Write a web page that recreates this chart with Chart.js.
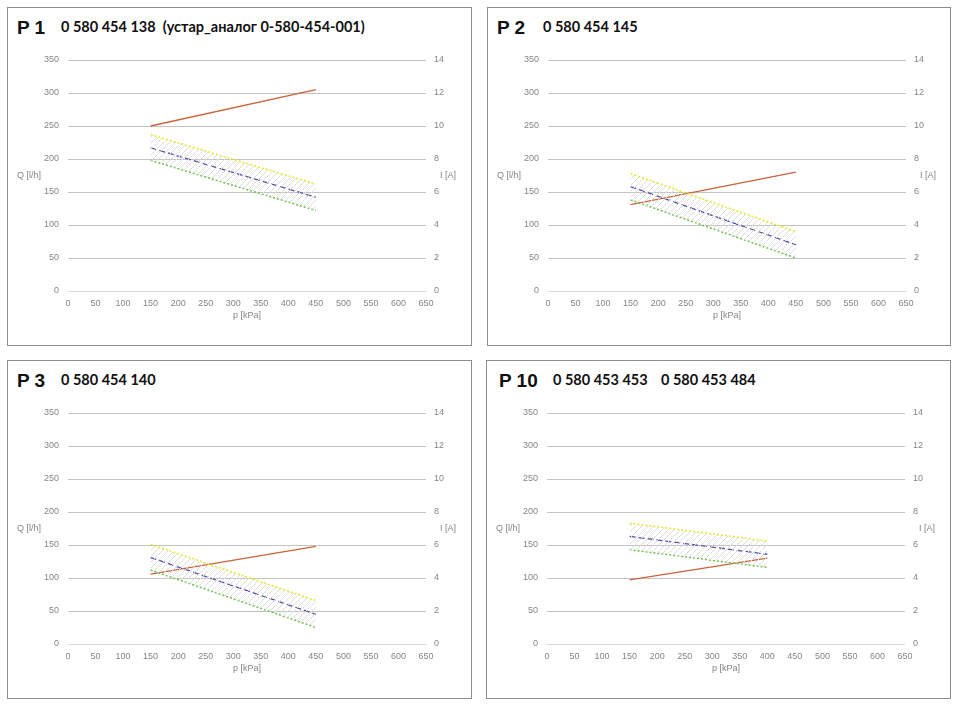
<!DOCTYPE html>
<html>
<head>
<meta charset="utf-8">
<script src="https://cdn.jsdelivr.net/npm/chart.js@4/dist/chart.umd.min.js"></script>
<style>
  body { margin: 0; background: #fff; width: 960px; height: 708px; position: relative; overflow: hidden; }
  .panel { position: absolute; border: 1px solid #8c8c8c; box-sizing: border-box; }
  .title { position: absolute; white-space: pre; color: #111; }
  .big { font: bold 19px "Liberation Sans", Arial, sans-serif; }
  .num { font: bold 14.5px Lato, "Open Sans", sans-serif; }
  canvas { position: absolute; }
</style>
</head>
<body>

<div class="panel" style="left:7px;top:7px;width:465px;height:339px"></div>
<div class="panel" style="left:487px;top:7px;width:464px;height:339px"></div>
<div class="panel" style="left:7px;top:360px;width:465px;height:339px"></div>
<div class="panel" style="left:486px;top:360px;width:465px;height:339px"></div>

<div class="title big" style="left:17px;top:17px">P 1</div>
<div class="title num" style="left:61px;top:18px">0 580 454 138  (устар_аналог 0-580-454-001)</div>
<div class="title big" style="left:497px;top:17px">P 2</div>
<div class="title num" style="left:543px;top:18px">0 580 454 145</div>
<div class="title big" style="left:17px;top:370px">P 3</div>
<div class="title num" style="left:61px;top:371px">0 580 454 140</div>
<div class="title big" style="left:499px;top:370px">P 10</div>
<div class="title num" style="left:553px;top:371px">0 580 453 453</div>
<div class="title num" style="left:661px;top:371px">0 580 453 484</div>

<canvas id="c1" width="462" height="300" style="left:8px;top:40px"></canvas>
<canvas id="c2" width="462" height="300" style="left:488px;top:40px"></canvas>
<canvas id="c3" width="462" height="300" style="left:8px;top:393px"></canvas>
<canvas id="c4" width="462" height="300" style="left:487px;top:393px"></canvas>

<script>
// pressure [kPa] and flow [l/h] / current [A]
const p1Pressure = [150, 450];
const p1Flow     = [217, 142];
const p1FlowMax  = [237, 162];
const p1FlowMin  = [198, 122];
const p1Current  = [10.0, 12.2];

const p2Pressure = [150, 450];
const p2Flow     = [158, 70];
const p2FlowMax  = [178, 90];
const p2FlowMin  = [138, 50];
const p2Current  = [5.24, 7.2];

const p3Pressure = [150, 450];
const p3Flow     = [131, 45];
const p3FlowMax  = [151, 66];
const p3FlowMin  = [112, 25];
const p3Current  = [4.24, 5.92];

const p4Pressure = [150, 400];
const p4Flow     = [163, 136];
const p4FlowMax  = [183, 156];
const p4FlowMin  = [143, 116];
const p4Current  = [3.88, 5.2];

const xTicks = [0, 650, 50];    // min, max, step
const qTicks = [0, 350, 50];
const iTicks = [0, 14, 2];

const tickFont = { family: '"Liberation Sans", Arial, sans-serif', size: 9 };
const tickColor = '#858585';

// hatch pattern for the tolerance band
function hatch() {
    const s = 6;
    const c = document.createElement('canvas');
    c.width = s; c.height = s;
    const g = c.getContext('2d');
    g.strokeStyle = '#dcdcdc';
    g.lineWidth = 1;
    g.beginPath();
    g.moveTo(0, s); g.lineTo(s, 0);
    g.moveTo(-1, 1); g.lineTo(1, -1);
    g.moveTo(s - 1, s + 1); g.lineTo(s + 1, s - 1);
    g.stroke();
    return g.createPattern(c, 'repeat');
}

function pts(xs, ys) {
    return xs.map((x, i) => ({ x: x, y: ys[i] }));
}

const sideTitles = {
    id: 'sideTitles',
    afterDraw(chart) {
        const ctx = chart.ctx, a = chart.chartArea;
        ctx.save();
        ctx.font = '9px "Liberation Sans", Arial, sans-serif';
        ctx.fillStyle = tickColor;
        ctx.textBaseline = 'middle';
        const mid = (a.top + a.bottom) / 2;
        ctx.fillText('Q [l/h]', a.left - 51, mid);
        ctx.fillText('I [A]', a.right + 14, mid);
        ctx.restore();
    }
};

function makeChart(id, press, flow, fmax, fmin, cur) {
    new Chart(document.getElementById(id), {
        type: 'line',
        data: {
            datasets: [
                { data: pts(press, fmax), borderColor: '#e6e62e', borderWidth: 1.5, borderDash: [2, 2],
                  fill: '+1', backgroundColor: hatch(), yAxisID: 'y' },
                { data: pts(press, fmin), borderColor: '#6cc048', borderWidth: 1.5, borderDash: [2, 2],
                  fill: false, yAxisID: 'y' },
                { data: pts(press, flow), borderColor: '#5252a4', borderWidth: 1.3, borderDash: [6, 3],
                  fill: false, yAxisID: 'y' },
                { data: pts(press, cur), borderColor: '#c9643a', borderWidth: 1.3,
                  fill: false, yAxisID: 'y1' }
            ]
        },
        options: {
            responsive: false,
            animation: false,
            events: [],
            layout: { padding: { top: 20, bottom: 19, left: 0, right: 0 } },
            elements: { point: { radius: 0 }, line: { tension: 0 } },
            plugins: { legend: { display: false }, tooltip: { enabled: false } },
            scales: {
                x: {
                    type: 'linear', min: xTicks[0], max: xTicks[1],
                    ticks: { stepSize: xTicks[2], font: tickFont, color: tickColor, padding: 7, maxRotation: 0 },
                    grid: { display: false, drawTicks: false },
                    border: { display: false },
                    title: { display: true, text: 'p [kPa]', font: tickFont, color: tickColor, padding: 0 },
                    afterFit: s => { s.height = 30; }
                },
                y: {
                    position: 'left', min: qTicks[0], max: qTicks[1],
                    ticks: { stepSize: qTicks[2], font: tickFont, color: tickColor, padding: 9 },
                    grid: { drawTicks: false, lineWidth: 1,
                            color: c => c.tick && c.tick.value === 0 ? '#d9d9d9' : '#c3c3c3' },
                    border: { display: false },
                    afterFit: s => { s.width = 60; }
                },
                y1: {
                    position: 'right', min: iTicks[0], max: iTicks[1],
                    ticks: { stepSize: iTicks[2], font: tickFont, color: tickColor, padding: 8 },
                    grid: { display: false, drawTicks: false },
                    border: { display: false },
                    afterFit: s => { s.width = 44; }
                }
            }
        },
        plugins: [sideTitles]
    });
}

makeChart('c1', p1Pressure, p1Flow, p1FlowMax, p1FlowMin, p1Current);
makeChart('c2', p2Pressure, p2Flow, p2FlowMax, p2FlowMin, p2Current);
makeChart('c3', p3Pressure, p3Flow, p3FlowMax, p3FlowMin, p3Current);
makeChart('c4', p4Pressure, p4Flow, p4FlowMax, p4FlowMin, p4Current);
</script>
</body>
</html>
